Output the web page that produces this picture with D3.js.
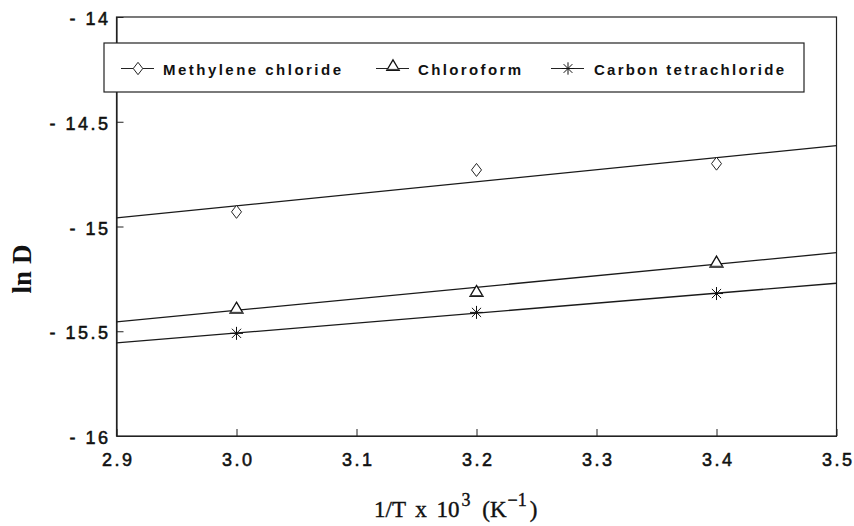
<!DOCTYPE html>
<html>
<head>
<meta charset="utf-8">
<script src="https://cdn.jsdelivr.net/npm/d3@7"></script>
<style>
  body { margin: 0; background: #fff; }
  svg { display: block; }
  .tick text { font-family: "Liberation Sans", Arial, sans-serif; font-size: 18px; letter-spacing: 2.5px; fill: #111; stroke: #111; stroke-width: 0.55px; }
  .legend text { font-family: "Liberation Sans", Arial, sans-serif; font-size: 15px; font-weight: bold; fill: #111; }
</style>
</head>
<body>
<svg width="854" height="526"></svg>
<script>
// values
const xValues = [3.0, 3.2, 3.4];
const methylene = [-14.93, -14.73, -14.70];
const chloroform = [-15.39, -15.31, -15.17];
const carbonTet = [-15.51, -15.41, -15.32];
const seriesNames = ["Methylene chloride", "Chloroform", "Carbon tetrachloride"];
const xTicks = [2.9, 3.0, 3.1, 3.2, 3.3, 3.4, 3.5];
const yTicks = [-14, -14.5, -15, -15.5, -16];

function drawChart(){
    const svg = d3.select("svg");
    const x = d3.scaleLinear().domain([2.9, 3.5]).range([116.5, 836.5]);
    const y = d3.scaleLinear().domain([-16, -14]).range([436, 17]);

    const series = [
        { name: seriesNames[0], values: methylene, shape: "diamond" },
        { name: seriesNames[1], values: chloroform, shape: "triangle" },
        { name: seriesNames[2], values: carbonTet, shape: "star" }
    ];

    // frame
    svg.append("rect")
       .attr("x", x(2.9)).attr("y", y(-14))
       .attr("width", x(3.5) - x(2.9)).attr("height", y(-16) - y(-14))
       .attr("fill", "none").attr("stroke", "#222").attr("stroke-width", 1.2);

    const gx = svg.append("g")
       .attr("transform", `translate(0,${y(-16)})`)
       .call(d3.axisBottom(x).tickValues(xTicks).tickSizeInner(-7).tickSizeOuter(0)
             .tickPadding(17).tickFormat(d3.format(".1f")));
    const gy = svg.append("g")
       .attr("transform", `translate(${x(2.9)},0)`)
       .call(d3.axisLeft(y).tickValues(yTicks).tickSizeInner(-7).tickSizeOuter(0)
             .tickPadding(6).tickFormat(d => "- " + Math.abs(d)));
    [gx, gy].forEach(g => {
        g.select(".domain").attr("stroke", "#222").attr("stroke-width", 1.2);
        g.selectAll(".tick line").attr("stroke", "#222");
        g.selectAll(".tick text").attr("font-size", null).attr("font-family", null);
    });
    gx.selectAll(".tick text").attr("dx", "1.2");
    gy.selectAll(".tick text").attr("dy", "0.42em");

    // least squares fit lines
    const fit = vals => {
        const mx = d3.mean(xValues), my = d3.mean(vals);
        const slope = d3.sum(xValues, (v, i) => (v - mx) * (vals[i] - my)) / d3.sum(xValues, v => (v - mx) ** 2);
        return xv => my + slope * (xv - mx);
    };
    series.forEach(s => {
        const f = fit(s.values);
        svg.append("line")
           .attr("x1", x(2.9)).attr("y1", y(f(2.9)))
           .attr("x2", x(3.5)).attr("y2", y(f(3.5)))
           .attr("stroke", "#1a1a1a").attr("stroke-width", 1.3);
    });

    const marker = (g, shape, cx, cy, k) => {
        if (shape == "diamond") {
            g.append("path").attr("d", `M${cx},${cy - 6.5 * k}L${cx + 5 * k},${cy}L${cx},${cy + 6.5 * k}L${cx - 5 * k},${cy}Z`)
             .attr("fill", "#fff").attr("stroke", "#222").attr("stroke-width", 1);
        } else if (shape == "triangle") {
            g.append("path").attr("d", `M${cx},${cy - 6 * k}L${cx + 6.5 * k},${cy + 5 * k}L${cx - 6.5 * k},${cy + 5 * k}Z`)
             .attr("fill", "#fff").attr("stroke", "#111").attr("stroke-width", 1.3);
            g.append("line").attr("x1", cx - 6.5 * k).attr("x2", cx + 6.5 * k)
             .attr("y1", cy + 4.2 * k).attr("y2", cy + 4.2 * k).attr("stroke", "#444").attr("stroke-width", 1.2);
        } else {
            [0, 45, 90, 135].forEach(a => {
                const r = 6.5 * k, t = a * Math.PI / 180;
                g.append("line")
                 .attr("x1", cx - r * Math.cos(t)).attr("y1", cy - r * Math.sin(t))
                 .attr("x2", cx + r * Math.cos(t)).attr("y2", cy + r * Math.sin(t))
                 .attr("stroke", "#111").attr("stroke-width", 1);
            });
        }
    };

    series.forEach(s => {
        const g = svg.append("g");
        s.values.forEach((v, i) => marker(g, s.shape, x(xValues[i]), y(v), 1));
    });

    // legend
    const legend = svg.append("g").attr("class", "legend");
    legend.append("rect")
          .attr("x", 104).attr("y", 43).attr("width", 700).attr("height", 49)
          .attr("fill", "#fff").attr("stroke", "#222").attr("stroke-width", 1.2);
    const symX = [138, 393, 568], symDy = [0, -3, 0], textX = [163, 418, 594], textW = [178, 103, 190];
    series.forEach((s, i) => {
        legend.append("line")
              .attr("x1", symX[i] - 17).attr("x2", symX[i] + 16)
              .attr("y1", 68.5).attr("y2", 68.5)
              .attr("stroke", "#222").attr("stroke-width", 1);
        marker(legend, s.shape, symX[i], 68.5 + symDy[i], 0.95);
        legend.append("text")
              .attr("x", textX[i]).attr("y", 74.5)
              .attr("textLength", textW[i]).attr("lengthAdjust", "spacing")
              .text(s.name);
    });

    // axis titles
    svg.append("text")
       .attr("transform", "translate(31,269) rotate(-90)")
       .attr("text-anchor", "middle")
       .attr("font-family", "'Liberation Serif', 'Times New Roman', serif")
       .attr("font-weight", "bold").attr("font-size", 27)
       .attr("fill", "#111")
       .text("ln D");

    const xt = svg.append("text")
       .attr("x", 374).attr("y", 517)
       .attr("font-family", "'Liberation Serif', 'Times New Roman', serif")
       .attr("font-size", 23).attr("fill", "#111")
       .attr("stroke", "#111").attr("stroke-width", 0.4);
    xt.append("tspan").text("1/T");
    xt.append("tspan").attr("dx", 4).text(" x");
    xt.append("tspan").attr("dx", 4).text(" 10");
    xt.append("tspan").attr("dy", -11).attr("dx", 2).attr("font-size", 18).text("3");
    xt.append("tspan").attr("dy", 11).attr("dx", 6).text(" (K");
    xt.append("tspan").attr("dy", -11).attr("dx", 1).attr("font-size", 18).text("\u22121");
    xt.append("tspan").attr("dy", 11).attr("dx", 3).text(")");
}

drawChart();
</script>
</body>
</html>
